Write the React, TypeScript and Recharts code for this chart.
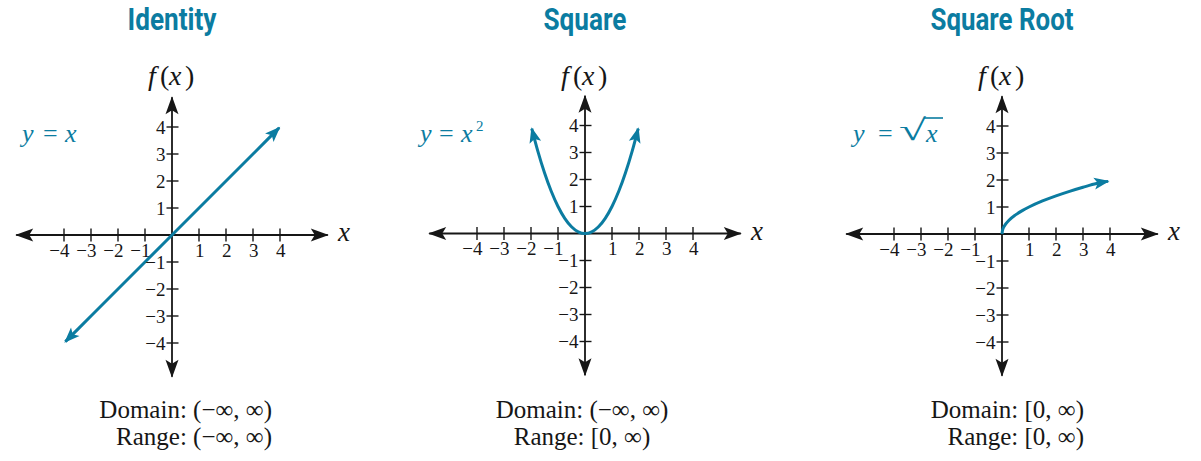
import React from 'react';
import { ComposedChart, XAxis, YAxis, Line, ReferenceLine, Scatter } from 'recharts';

// ---------- data ----------
const titles = ['Identity', 'Square', 'Square Root'];
const titleWidths = [89, 83, 143];
const domainTexts = ['Domain: (\u2212\u221E, \u221E)', 'Domain: (\u2212\u221E, \u221E)', 'Domain: [0, \u221E)'];
const rangeTexts = ['Range: (\u2212\u221E, \u221E)', 'Range: [0, \u221E)', 'Range: [0, \u221E)'];

const xTickValues = [-4, -3, -2, -1, 1, 2, 3, 4];
const yTickValues = [-4, -3, -2, -1, 1, 2, 3, 4];

const identityX = [-3.95, -3, -2, -1, 0, 1, 2, 3, 3.97];
const identityY = [-3.95, -3, -2, -1, 0, 1, 2, 3, 3.97];

const squareX = [-1.97, -1.75, -1.5, -1.25, -1, -0.75, -0.5, -0.25, 0, 0.25, 0.5, 0.75, 1, 1.25, 1.5, 1.75, 1.97];
const squareY = [3.88, 3.0625, 2.25, 1.5625, 1, 0.5625, 0.25, 0.0625, 0, 0.0625, 0.25, 0.5625, 1, 1.5625, 2.25, 3.0625, 3.88];

const sqrtX = [0, 0.02, 0.1, 0.25, 0.5, 0.75, 1, 1.5, 2, 2.5, 3, 3.5, 3.93];
const sqrtY = [0, 0.141, 0.316, 0.5, 0.707, 0.866, 1, 1.225, 1.414, 1.581, 1.732, 1.871, 1.95];

// ---------- styling / layout ----------
const TEAL = '#0b7ca1';
const INK = '#161616';
const SERIF = "'Liberation Serif', 'DejaVu Serif', serif";
const TITLE_FONT = "Roboto, 'Liberation Sans', sans-serif";

const U = 27; // px per unit
const CW = 340;
const CH = 461;
const origins = [
  { ox: 172, oy: 235 },
  { ox: 585, oy: 233.5 },
  { ox: 1002, oy: 234 },
];
const AXIS_X = 5.77;
const AXIS_TOP = 5.1;
const AXIS_BOTTOM = 5.25;

const fmt = (v: number) => (v < 0 ? '\u2212' + Math.abs(v) : String(v));

const zip = (xs: number[], ys: number[]) => xs.map((x, i) => ({ x, y: ys[i] }));
const curves = [zip(identityX, identityY), zip(squareX, squareY), zip(sqrtX, sqrtY)];
const arrowAtStart = [true, true, false];

const xTickData = xTickValues.map((v) => ({ x: v, y: 0 }));
const yTickData = yTickValues.map((v) => ({ x: 0, y: v }));

const axisShape = (p: any) => (
  <line
    x1={p.x1}
    y1={p.y1}
    x2={p.x2}
    y2={p.y2}
    stroke={INK}
    strokeWidth={1.8}
    markerStart="url(#blackArrow)"
    markerEnd="url(#blackArrow)"
  />
);

const XTick = (p: any) => {
  const { cx, cy, payload } = p;
  return (
    <g>
      <line x1={cx} x2={cx} y1={cy - 6.5} y2={cy + 6.5} stroke={INK} strokeWidth={1.4} />
      <text x={cx + 5.5} y={cy + 21.5} textAnchor="end" fontFamily={SERIF} fontSize={19} fill={INK}>
        {fmt(payload.x)}
      </text>
    </g>
  );
};

const YTick = (p: any) => {
  const { cx, cy, payload } = p;
  return (
    <g>
      <line x1={cx - 5.5} x2={cx + 6.5} y1={cy} y2={cy} stroke={INK} strokeWidth={1.4} />
      <text x={cx - 6.5} y={cy + 6.5} textAnchor="end" fontFamily={SERIF} fontSize={19} fill={INK}>
        {fmt(payload.y)}
      </text>
    </g>
  );
};

function Panel({ idx }: { idx: number }) {
  const { ox, oy } = origins[idx];
  const domX = [-CW / 2 / U, CW / 2 / U];
  const domY = [-(CH - oy) / U, oy / U];
  return (
    <div style={{ position: 'absolute', left: ox - CW / 2, top: 0, width: CW, height: CH }}>
      <ComposedChart width={CW} height={CH} margin={{ top: 0, right: 0, bottom: 0, left: 0 }}>
        <XAxis type="number" dataKey="x" domain={domX} hide allowDataOverflow />
        <YAxis type="number" dataKey="y" domain={domY} hide allowDataOverflow />
        <ReferenceLine segment={[{ x: -AXIS_X, y: 0 }, { x: AXIS_X, y: 0 }]} shape={axisShape} />
        <ReferenceLine segment={[{ x: 0, y: -AXIS_BOTTOM }, { x: 0, y: AXIS_TOP }]} shape={axisShape} />
        <Scatter data={xTickData} shape={XTick} isAnimationActive={false} />
        <Scatter data={yTickData} shape={YTick} isAnimationActive={false} />
        <Line
          data={curves[idx]}
          dataKey="y"
          type="monotone"
          stroke={TEAL}
          strokeWidth={3}
          dot={false}
          activeDot={false}
          isAnimationActive={false}
          markerEnd="url(#tealArrow)"
          markerStart={arrowAtStart[idx] ? 'url(#tealArrow)' : undefined}
        />
      </ComposedChart>
    </div>
  );
}

export default function App() {
  return (
    <div style={{ position: 'absolute', left: 0, top: 0, width: 1201, height: 461, background: '#fff', overflow: 'hidden' }}>
      <svg width={0} height={0} style={{ position: 'absolute' }}>
        <defs>
          <marker id="tealArrow" viewBox="-17 -8 19 16" refX={0} refY={0} markerWidth={19} markerHeight={16}
            markerUnits="userSpaceOnUse" orient="auto-start-reverse">
            <path d="M1.5,0 L-14,-6 L-10.5,0 L-14,6 Z" fill={TEAL} />
          </marker>
          <marker id="blackArrow" viewBox="-19 -8 21 16" refX={0} refY={0} markerWidth={21} markerHeight={16}
            markerUnits="userSpaceOnUse" orient="auto-start-reverse">
            <path d="M1,0 L-17,-6.5 L-13,0 L-17,6.5 Z" fill={INK} />
          </marker>
        </defs>
      </svg>
      {[0, 1, 2].map((i) => (
        <Panel key={i} idx={i} />
      ))}
      <svg width={1201} height={461} style={{ position: 'absolute', left: 0, top: 0, pointerEvents: 'none' }}>
        {origins.map((o, i) => (
          <g key={i}>
            <text
              x={o.ox - titleWidths[i] / 2}
              y={30}
              textLength={titleWidths[i]}
              lengthAdjust="spacingAndGlyphs"
              fontFamily={TITLE_FONT}
              fontWeight={700}
              fontSize={31}
              fill={TEAL}
            >
              {titles[i]}
            </text>
            <text y={85} fontFamily={SERIF} fontStyle="italic" fontSize={28} fill={INK}>
              <tspan x={o.ox - 24}>f</tspan>
              <tspan x={o.ox - 12} fontStyle="normal">(</tspan>
              <tspan x={o.ox - 3}>x</tspan>
              <tspan x={o.ox + 13} fontStyle="normal">)</tspan>
            </text>
            <text x={o.ox + 166} y={o.oy + 6} fontFamily={SERIF} fontStyle="italic" fontSize={27} fill={INK}>
              x
            </text>
          </g>
        ))}
        <text y={142} fontFamily={SERIF} fontSize={26} fill={TEAL}>
          <tspan x={22} fontStyle="italic">y</tspan>
          <tspan x={43}>=</tspan>
          <tspan x={65} fontStyle="italic">x</tspan>
        </text>
        <text y={142} fontFamily={SERIF} fontSize={26} fill={TEAL}>
          <tspan x={420} fontStyle="italic">y</tspan>
          <tspan x={439}>=</tspan>
          <tspan x={461} fontStyle="italic">x</tspan>
          <tspan x={476} dy={-11} fontSize={15}>2</tspan>
        </text>
        <text y={142} fontFamily={SERIF} fontSize={26} fill={TEAL}>
          <tspan x={853} fontStyle="italic">y</tspan>
          <tspan x={878}>=</tspan>
          <tspan x={926} fontStyle="italic">x</tspan>
        </text>
        <text x={899} y={140} fontFamily={SERIF} fontSize={30} fill={TEAL} textLength={27} lengthAdjust="spacingAndGlyphs">
          {'\u221A'}
        </text>
        <line x1={924} x2={943} y1={118} y2={118} stroke={TEAL} strokeWidth={1.6} />
        <text x={272} y={418} textAnchor="end" fontFamily={SERIF} fontSize={25} fill={INK}>{domainTexts[0]}</text>
        <text x={272} y={445} textAnchor="end" fontFamily={SERIF} fontSize={25} fill={INK}>{rangeTexts[0]}</text>
        <text x={582} y={418} textAnchor="middle" fontFamily={SERIF} fontSize={25} fill={INK}>{domainTexts[1]}</text>
        <text x={582} y={445} textAnchor="middle" fontFamily={SERIF} fontSize={25} fill={INK}>{rangeTexts[1]}</text>
        <text x={1084} y={418} textAnchor="end" fontFamily={SERIF} fontSize={25} fill={INK}>{domainTexts[2]}</text>
        <text x={1084} y={445} textAnchor="end" fontFamily={SERIF} fontSize={25} fill={INK}>{rangeTexts[2]}</text>
      </svg>
    </div>
  );
}
